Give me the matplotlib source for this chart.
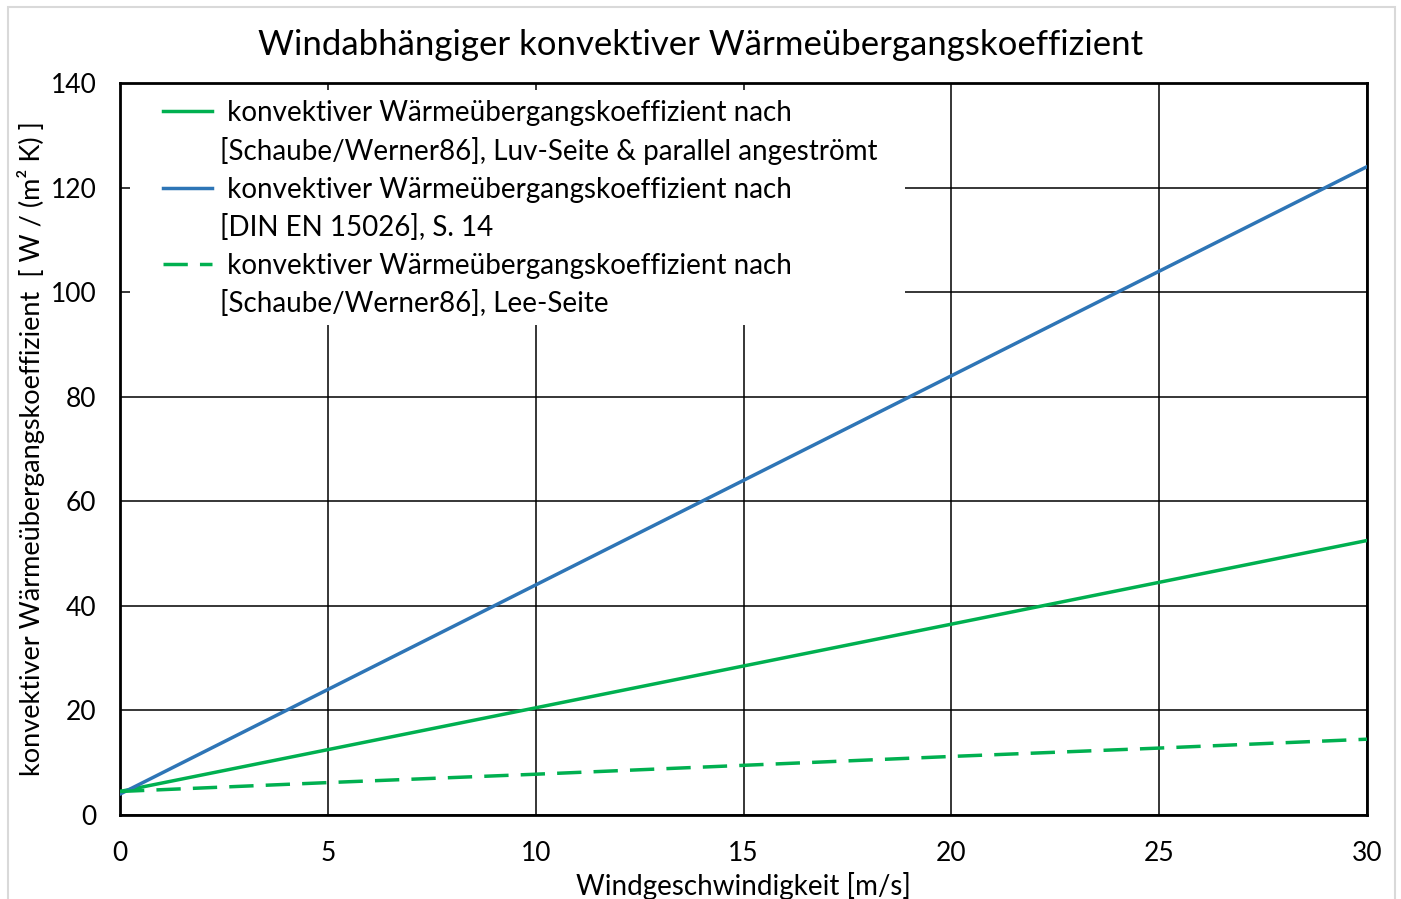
import numpy as np
import matplotlib
matplotlib.use("Agg")
import matplotlib.pyplot as plt
from matplotlib.patches import Rectangle
from matplotlib.lines import Line2D

plt.rcParams['font.family'] = ['Lato', 'DejaVu Sans']

# wind speed [m/s] and read-off coefficients [W/(m² K)]
v = [0, 5, 10, 15, 20, 25, 30]
din_15026 = [4, 24, 44, 64, 84, 104, 124]
schaube_luv = [4.5, 12.5, 20.5, 28.5, 36.5, 44.5, 52.5]
schaube_lee = [4.5, 6.2, 7.8, 9.5, 11.2, 12.8, 14.5]

lbl_head = " konvektiver Wärmeübergangskoeffizient nach"
lbl_luv = "[Schaube/Werner86], Luv-Seite & parallel angeströmt"
lbl_din = "[DIN EN 15026], S. 14"
lbl_lee = "[Schaube/Werner86], Lee-Seite"

green = '#00B050'
blue = '#2E75B6'

fig = plt.figure(figsize=(14.01, 8.99), dpi=100)
fig.patches.append(Rectangle((8 / 1401, -0.01), 1387 / 1401, 1.01 - 7 / 899,
                             transform=fig.transFigure, fill=False,
                             edgecolor='#D9D9D9', lw=1.5))
ax = fig.add_axes([120 / 1401, 1 - 815 / 899, 1247 / 1401, 732 / 899])

h_luv, = ax.plot(v, schaube_luv, color=green, lw=2.5, zorder=3)
h_din, = ax.plot(v, din_15026, color=blue, lw=2.5, zorder=3)
h_lee, = ax.plot(v, schaube_lee, color=green, lw=2.5, ls=(0, (7, 3.5)), zorder=3)

ax.set_xlim(0, 30)
ax.set_ylim(0, 140)
ax.set_xticks(np.arange(0, 31, 5))
ax.set_yticks(np.arange(0, 141, 20))
ax.set_axisbelow(True)
ax.grid(True, color='black', lw=1.1)
ax.tick_params(length=0, labelsize=19)
ax.tick_params(axis='x', pad=19)
ax.tick_params(axis='y', pad=17)
for s in ax.spines.values():
    s.set_linewidth(2)

# white box behind legend hides the grid there
ax.add_patch(Rectangle((10 / 1247, (815 - 325) / 732), (905 - 130) / 1247, 235 / 732,
                       transform=ax.transAxes, facecolor='white', edgecolor='none', zorder=1.5))

blank = Line2D([], [], color='none')
leg = ax.legend([h_luv, blank, h_din, blank, h_lee, blank],
                [lbl_head, lbl_luv, lbl_head, lbl_din, lbl_head, lbl_lee],
                loc='upper left', bbox_to_anchor=(43 / 1247, 1 - 17 / 732), frameon=False,
                fontsize=20, handlelength=1.75, handletextpad=0.3, labelspacing=0.41,
                borderaxespad=0, borderpad=0)

fig.suptitle("Windabhängiger konvektiver Wärmeübergangskoeffizient", fontsize=25,
             x=0.5, y=1 - 45 / 899, va='center')
ax.set_xlabel("Windgeschwindigkeit [m/s]", fontsize=20, labelpad=4)
ax.set_ylabel("konvektiver Wärmeübergangskoeffizient  [ W / (m² K) ]", fontsize=19.5, labelpad=4)

fig.savefig("out.png", dpi=100)
